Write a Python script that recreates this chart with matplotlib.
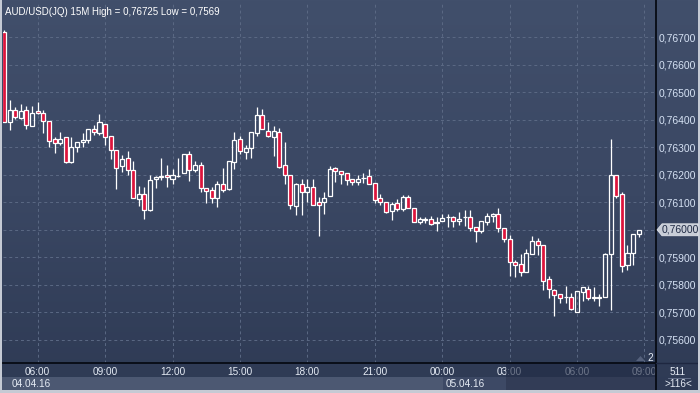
import numpy as np
import pandas as pd
import matplotlib
matplotlib.use("Agg")
import matplotlib.pyplot as plt
from matplotlib.patches import Rectangle, Polygon
from matplotlib.lines import Line2D
from matplotlib.colors import LinearSegmentedColormap
import matplotlib.transforms as mtransforms

plt.rcParams['font.family'] = ['Liberation Sans', 'DejaVu Sans']

# ---------------- data (AUD/USD 15M candles) ----------------
times = pd.date_range("2016-04-04 04:30", periods=114, freq="15min")

opens = [0.76720, 0.76393, 0.76436, 0.76408, 0.76436, 0.76379, 0.76431, 0.76424, 0.76395, 0.76329,
         0.76317, 0.76336, 0.76248, 0.76300, 0.76318, 0.76327, 0.76365, 0.76351, 0.76385, 0.76341,
         0.76289, 0.76232, 0.76260, 0.76217, 0.76111, 0.76129, 0.76072, 0.76184, 0.76193, 0.76198,
         0.76184, 0.76196, 0.76205, 0.76275, 0.76217, 0.76235, 0.76151, 0.76145, 0.76115, 0.76165,
         0.76150, 0.76248, 0.76329, 0.76284, 0.76296, 0.76351, 0.76417, 0.76359, 0.76336, 0.76355,
         0.76235, 0.76198, 0.76088, 0.76165, 0.76139, 0.76155, 0.76100, 0.76100, 0.76124, 0.76224,
         0.76215, 0.76205, 0.76184, 0.76175, 0.76187, 0.76196, 0.76169, 0.76115, 0.76100, 0.76070,
         0.76096, 0.76075, 0.76118, 0.76078, 0.76030, 0.76036, 0.76038, 0.76024, 0.76033, 0.76046,
         0.76046, 0.76031, 0.76045, 0.76048, 0.76009, 0.75996, 0.76030, 0.76050, 0.76056, 0.76005,
         0.75965, 0.75882, 0.75875, 0.75848, 0.75911, 0.75959, 0.75945, 0.75820, 0.75781, 0.75765,
         0.75755, 0.75755, 0.75702, 0.75775, 0.75785, 0.75751, 0.75752, 0.75754, 0.75911, 0.76199,
         0.76130, 0.75872, 0.75915, 0.75984]
highs = [0.76725, 0.76472, 0.76445, 0.76457, 0.76450, 0.76450, 0.76465, 0.76436, 0.76395, 0.76339,
         0.76355, 0.76336, 0.76336, 0.76318, 0.76353, 0.76365, 0.76381, 0.76421, 0.76385, 0.76341,
         0.76289, 0.76272, 0.76287, 0.76250, 0.76159, 0.76157, 0.76199, 0.76196, 0.76260, 0.76236,
         0.76220, 0.76260, 0.76275, 0.76287, 0.76250, 0.76247, 0.76151, 0.76155, 0.76177, 0.76224,
         0.76250, 0.76356, 0.76341, 0.76307, 0.76355, 0.76445, 0.76439, 0.76392, 0.76377, 0.76369,
         0.76320, 0.76198, 0.76171, 0.76184, 0.76185, 0.76184, 0.76120, 0.76137, 0.76232, 0.76228,
         0.76215, 0.76205, 0.76184, 0.76199, 0.76208, 0.76221, 0.76169, 0.76129, 0.76102, 0.76100,
         0.76111, 0.76127, 0.76127, 0.76078, 0.76048, 0.76048, 0.76050, 0.76048, 0.76057, 0.76057,
         0.76050, 0.76064, 0.76072, 0.76072, 0.76009, 0.76032, 0.76060, 0.76062, 0.76078, 0.76005,
         0.75981, 0.75890, 0.75912, 0.75929, 0.75977, 0.75969, 0.75945, 0.75832, 0.75784, 0.75765,
         0.75796, 0.75769, 0.75777, 0.75791, 0.75796, 0.75791, 0.75765, 0.75915, 0.76329, 0.76199,
         0.76139, 0.75945, 0.75984, 0.75999]
lows = [0.76391, 0.76363, 0.76402, 0.76402, 0.76367, 0.76379, 0.76421, 0.76353, 0.76302, 0.76278,
        0.76308, 0.76244, 0.76244, 0.76284, 0.76300, 0.76317, 0.76345, 0.76345, 0.76310, 0.76259,
        0.76150, 0.76211, 0.76199, 0.76115, 0.76087, 0.76038, 0.76070, 0.76151, 0.76181, 0.76157,
        0.76167, 0.76193, 0.76205, 0.76179, 0.76211, 0.76139, 0.76099, 0.76096, 0.76084, 0.76139,
        0.76145, 0.76221, 0.76275, 0.76257, 0.76260, 0.76342, 0.76365, 0.76336, 0.76268, 0.76224,
        0.76167, 0.76075, 0.76054, 0.76054, 0.76102, 0.76089, 0.75977, 0.76057, 0.76124, 0.76175,
        0.76167, 0.76163, 0.76163, 0.76163, 0.76171, 0.76165, 0.76099, 0.76090, 0.76060, 0.76036,
        0.76070, 0.76070, 0.76078, 0.76030, 0.76021, 0.76026, 0.76017, 0.75997, 0.76033, 0.76009,
        0.76009, 0.76017, 0.76012, 0.75997, 0.75957, 0.75990, 0.76017, 0.76030, 0.75993, 0.75957,
        0.75833, 0.75830, 0.75833, 0.75848, 0.75911, 0.75908, 0.75781, 0.75753, 0.75688, 0.75735,
        0.75735, 0.75708, 0.75700, 0.75742, 0.75745, 0.75742, 0.75723, 0.75754, 0.75708, 0.76115,
        0.75848, 0.75854, 0.75872, 0.75975]
closes = [0.76391, 0.76436, 0.76409, 0.76432, 0.76381, 0.76424, 0.76424, 0.76397, 0.76324, 0.76315,
          0.76329, 0.76248, 0.76300, 0.76318, 0.76325, 0.76365, 0.76355, 0.76391, 0.76336, 0.76289,
          0.76224, 0.76256, 0.76217, 0.76115, 0.76129, 0.76072, 0.76181, 0.76191, 0.76197, 0.76191,
          0.76198, 0.76197, 0.76275, 0.76217, 0.76235, 0.76151, 0.76141, 0.76115, 0.76165, 0.76145,
          0.76250, 0.76325, 0.76285, 0.76296, 0.76355, 0.76417, 0.76365, 0.76341, 0.76359, 0.76230,
          0.76198, 0.76089, 0.76165, 0.76136, 0.76155, 0.76089, 0.76089, 0.76117, 0.76220, 0.76215,
          0.76203, 0.76181, 0.76175, 0.76184, 0.76190, 0.76165, 0.76108, 0.76100, 0.76064, 0.76093,
          0.76075, 0.76118, 0.76078, 0.76030, 0.76038, 0.76038, 0.76021, 0.76027, 0.76044, 0.76048,
          0.76031, 0.76038, 0.76048, 0.76008, 0.75997, 0.76032, 0.76050, 0.76056, 0.76008, 0.75965,
          0.75882, 0.75872, 0.75848, 0.75915, 0.75959, 0.75945, 0.75815, 0.75784, 0.75763, 0.75751,
          0.75754, 0.75711, 0.75777, 0.75791, 0.75751, 0.75755, 0.75754, 0.75912, 0.76199, 0.76124,
          0.75869, 0.75915, 0.75984, 0.75999]

price_levels = [0.756, 0.757, 0.758, 0.759, 0.760, 0.761, 0.762, 0.763, 0.764, 0.765, 0.766, 0.767]
time_tick_labels = ["06:00", "09:00", "12:00", "15:00", "18:00", "21:00", "00:00", "03:00", "06:00", "09:00"]
date_labels = ["04.04.16", "05.04.16"]
title = "AUD/USD(JQ) 15M High = 0,76725 Low = 0,7569"
last_price = 0.76000

# ---------------- figure ----------------
W, H = 700, 393
fig = plt.figure(figsize=(7.0, 3.93), dpi=100)
fig.patch.set_facecolor('#37445f')

def fx(px):
    return px / W

def fy(py):
    return 1 - py / H

# gradient background
bg = fig.add_axes([0, 0, 1, 1], zorder=-5)
grad = np.linspace(0, 1, 256).reshape(-1, 1)
cmap = LinearSegmentedColormap.from_list('bg', ['#414f6b', '#3a4763', '#2e3a54'])
bg.imshow(grad, aspect='auto', cmap=cmap, extent=[0, 1, 0, 1], origin='upper')
bg.set_axis_off()

L, R, T, B = 3, 656, 3, 363
ax = fig.add_axes([fx(L), fy(B), fx(R - L), (B - T) / H])
ax.patch.set_alpha(0)
for s in ax.spines.values():
    s.set_visible(False)

n = len(opens)
x = np.arange(n)
o = np.array(opens); c = np.array(closes); hi = np.array(highs); lo = np.array(lows)
up = c >= o
b_lo = np.minimum(o, c)
b_hi = np.maximum(o, c)
bh = np.maximum(b_hi - b_lo, 0.000006)

ax.vlines(x, b_hi, hi, color='white', lw=0.9, zorder=3)
ax.vlines(x, lo, b_lo, color='white', lw=0.9, zorder=3)
ax.bar(x[up], bh[up], bottom=b_lo[up], width=0.72, facecolor='none',
       edgecolor='white', linewidth=0.9, zorder=4)
ax.bar(x[~up], bh[~up], bottom=b_lo[~up], width=0.72, facecolor='#dc143c',
       edgecolor='white', linewidth=0.9, zorder=4)

px_per_bar = 5.617
xmin = -0.178
xmax = xmin + (R - L) / px_per_bar
ax.set_xlim(xmin, xmax)
ppu = 27500.0
ymax = 0.767 + (37.3 - T) / ppu
ymin = 0.767 - (B - 37.3) / ppu
ax.set_ylim(ymin, ymax)

# grid
tick_idx = [6 + 12 * k for k in range(len(time_tick_labels))]
for lv in price_levels:
    ax.axhline(lv, color='#5b6984', lw=0.7, ls=(0, (3, 3)), zorder=1)
for t in tick_idx:
    ax.axvline(t, color='#5b6984', lw=0.7, ls=(0, (3, 3)), zorder=1)

ax.yaxis.tick_right()
ax.set_yticks(price_levels)
ax.set_yticklabels(["" if abs(v - last_price) < 1e-9 else ("%.5f" % v).replace('.', ',')
                    for v in price_levels])
ax.tick_params(axis='y', length=0, pad=2.2, labelsize=7.5, labelcolor='#d6e2f4')
ax.set_xticks(tick_idx)
ax.set_xticklabels(time_tick_labels)
ax.tick_params(axis='x', length=0, pad=3, labelsize=7.2, labelcolor='#e6ecf5')

# bottom strips
fig.patches.append(Rectangle((fx(0), fy(390)), fx(656), (390 - 377) / H, transform=fig.transFigure,
                             facecolor='#4c5872', edgecolor='none', zorder=-1))
fig.patches.append(Rectangle((fx(443), fy(390)), fx(506 - 443), (390 - 377) / H, transform=fig.transFigure,
                             facecolor='#3d4965', edgecolor='none', zorder=-1))
fig.text(fx(12), fy(384), date_labels[0], fontsize=7.2, color='#e6ecf5', va='center', ha='left')
fig.text(fx(446), fy(384), date_labels[1], fontsize=7.2, color='#e6ecf5', va='center', ha='left')

# dark scroll overlay over the right part of the bottom strips (drawn on top of labels)
fig.patches.append(Rectangle((fx(506), fy(390)), fx(656 - 506), (390 - 363.5) / H, transform=fig.transFigure,
                             facecolor='#222c46', edgecolor='none', alpha=0.62, zorder=10))

# axis lines (black)
fig.lines.append(Line2D([fx(L), fx(R)], [fy(B), fy(B)], transform=fig.transFigure, color='#070b14', lw=1.3, zorder=11))
fig.lines.append(Line2D([fx(R), fx(R)], [fy(0), fy(391)], transform=fig.transFigure, color='#070b14', lw=1.3, zorder=11))
fig.lines.append(Line2D([fx(R), fx(700)], [fy(B), fy(B)], transform=fig.transFigure, color='#1e2740', lw=1.0, zorder=11))

# outer light frame
fig.patches.append(Rectangle((0, 0), fx(2), 1, transform=fig.transFigure, facecolor='#c5cad4', edgecolor='none', zorder=12))
fig.patches.append(Rectangle((0, 0), 1, 3 / H, transform=fig.transFigure, facecolor='#c5cad4', edgecolor='none', zorder=12))
fig.patches.append(Rectangle((fx(698), 0), fx(2), 1, transform=fig.transFigure, facecolor='#c5cad4', edgecolor='none', zorder=12))

# title
fig.text(fx(5), fy(12), title, fontsize=7, color='white', va='center', ha='left', zorder=12)

# right bottom box
fig.text(fx(678), fy(372), "511", fontsize=7.2, color='#e6ecf5', va='center', ha='center', zorder=12)
fig.lines.append(Line2D([fx(668), fx(690)], [fy(378), fy(378)], transform=fig.transFigure, color='#6a7690', lw=0.6, zorder=12))
fig.text(fx(678), fy(384), ">116<", fontsize=7.2, color='#e6ecf5', va='center', ha='center', zorder=12)

# small "2" marker
fig.patches.append(Polygon([[fx(636), fy(361)], [fx(645), fy(361)], [fx(640.5), fy(356)]], closed=True,
                           transform=fig.transFigure, facecolor='#55617c', edgecolor='none', zorder=12))
fig.text(fx(647), fy(358), "2", fontsize=7.2, color='#e6ecf5', va='center', ha='left', zorder=12)

# current price label
trans = mtransforms.blended_transform_factory(fig.transFigure, ax.transData)
dy = 6.0 / ppu
fig.patches.append(Polygon([[fx(657), last_price], [fx(662), last_price + dy], [fx(698), last_price + dy],
                            [fx(698), last_price - dy], [fx(662), last_price - dy]], closed=True,
                           transform=trans, facecolor='#c8cdd7', edgecolor='#e8ebf0', lw=0.5, zorder=12))
fig.text(fx(680), last_price, ("%.5f" % last_price).replace('.', ','), transform=trans, fontsize=7.5,
         color='#1f2a44', va='center', ha='center', zorder=13)

fig.savefig("out.png", dpi=100, facecolor=fig.get_facecolor())
